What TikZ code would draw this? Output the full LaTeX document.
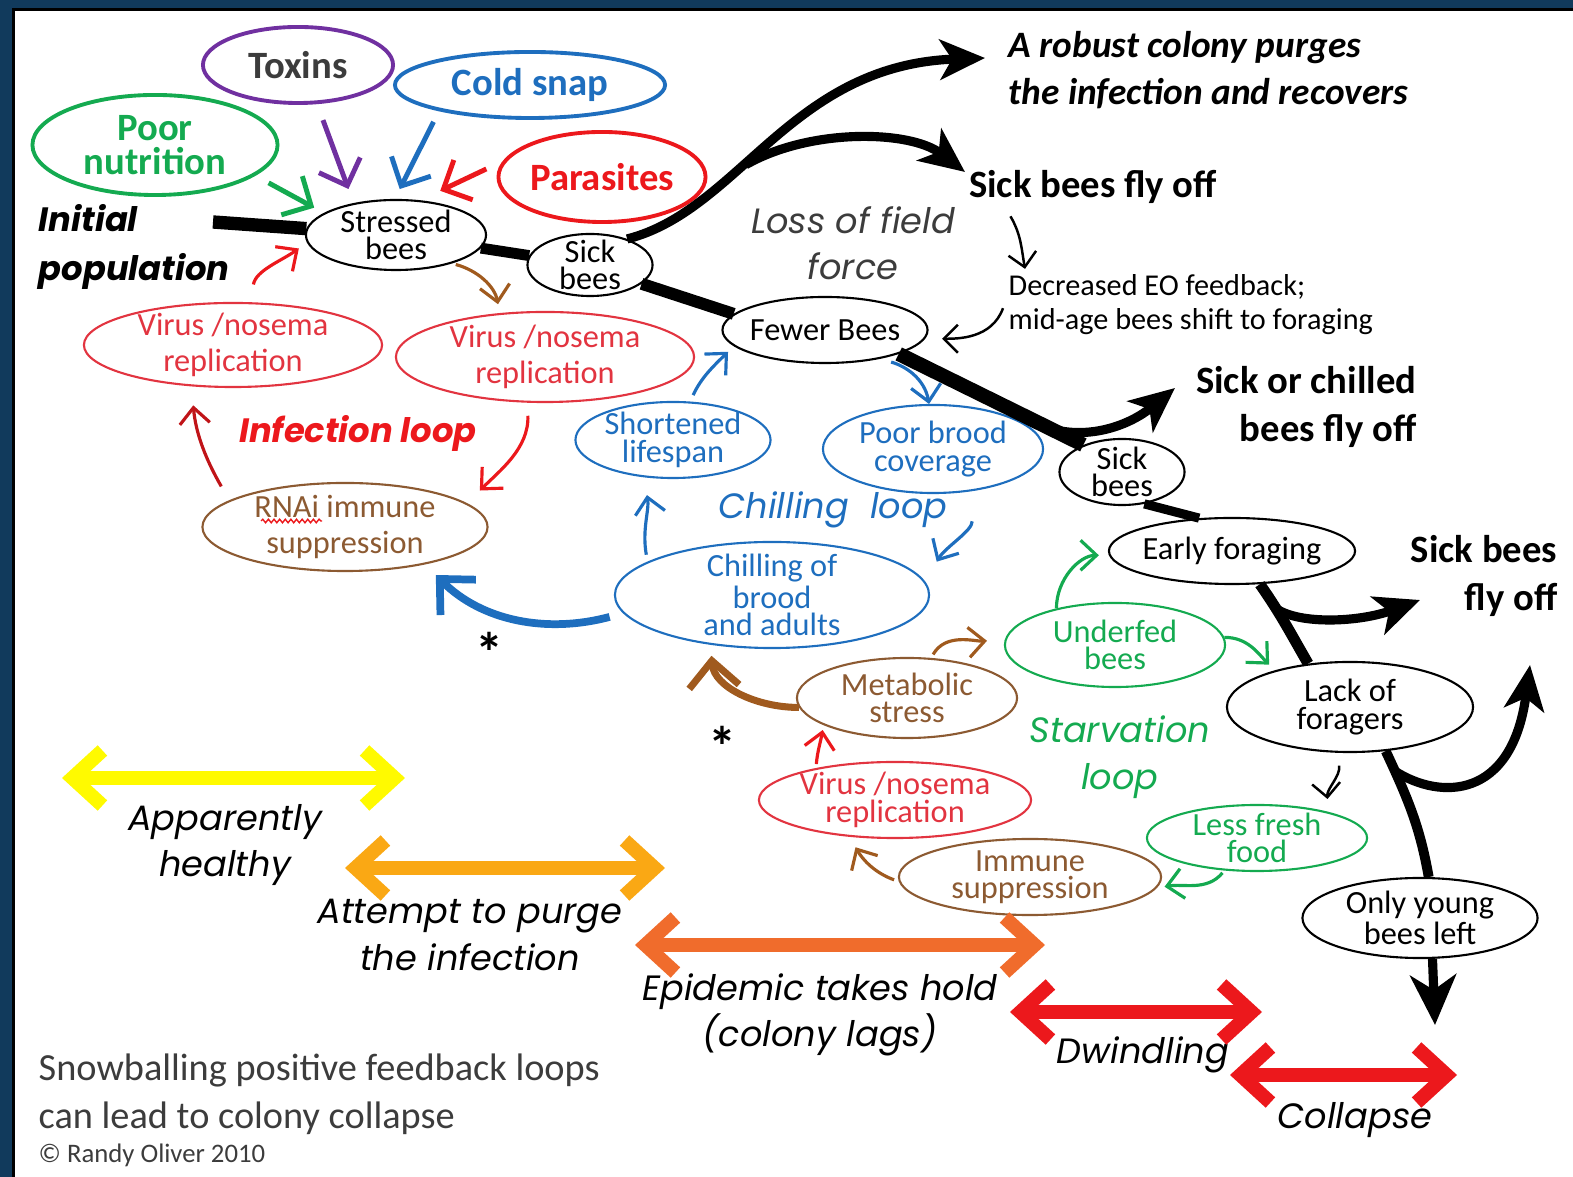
\documentclass[tikz,border=0pt]{standalone}
\usepackage{fontspec}
\setmainfont{Carlito}
\newfontfamily\comic{Poppins}
\usetikzlibrary{shapes.geometric,arrows.meta,decorations.pathmorphing}
\definecolor{framenavy}{RGB}{17,58,92}
\definecolor{cpurple}{RGB}{112,48,160}
\definecolor{cblue}{RGB}{30,110,190}
\definecolor{cgreen}{RGB}{20,170,80}
\definecolor{cred}{RGB}{236,24,28}
\definecolor{crose}{RGB}{226,52,64}
\definecolor{cdarkred}{RGB}{192,20,24}
\definecolor{cbrown}{RGB}{140,90,50}
\definecolor{cbrownar}{RGB}{160,90,30}
\definecolor{cgray}{RGB}{60,60,60}
\definecolor{cyellow}{RGB}{255,250,0}
\definecolor{corange}{RGB}{250,168,20}
\definecolor{corangered}{RGB}{240,108,44}
\begin{document}
\begin{tikzpicture}[x=0.01cm,y=-0.01cm,
    bubble/.style={ellipse,draw,inner sep=-3pt,align=center,line width=0.6pt,font=\fontsize{9.2}{7.8}\selectfont},
    cause/.style={ellipse,draw,inner sep=-3pt,align=center,line width=1.1pt,font=\fontsize{11}{9.6}\selectfont\bfseries},
    hand/.style={inner sep=0pt,align=center,font=\fontsize{10}{13.2}\selectfont\comic\itshape},
    handbold/.style={hand,font=\fontsize{9.6}{14.2}\selectfont\comic\bfseries\itshape},
    note/.style={inner sep=0pt,font=\fontsize{11}{13.4}\selectfont},
    trunk/.style={line width=3.8pt},
    branch/.style={line width=2.6pt,-{Stealth[length=4.5mm,width=4mm,inset=1.2mm]}},
    hair/.style={line width=0.7pt,-{Straight Barb[length=1.4mm,width=2.8mm]}},
    loopar/.style={line width=0.9pt,-{Straight Barb[length=1.6mm,width=3mm]}},
    causear/.style={line width=1.4pt,-{Straight Barb[length=2.2mm,width=4.4mm]}},
    fatar/.style={line width=2.2pt,-{Straight Barb[length=2.6mm,width=5mm]}},
    span/.style={line width=4pt,{Straight Barb[length=3mm,width=5.5mm]}-{Straight Barb[length=3mm,width=5.5mm]}}]
    \useasboundingbox (0,0) rectangle (1573,1177);
    \fill[framenavy] (0,0) rectangle (1573,8);
    \fill[framenavy] (0,0) rectangle (12,1177);
    \fill[black] (12,8) rectangle (1573,11);
    \fill[black] (12,8) rectangle (15,1177);

    \node[cause,draw=cpurple,text=cgray,minimum width=1.9cm,minimum height=0.76cm] (toxins) at (298,65) {Toxins};
    \node[cause,draw=cblue,text=cblue,minimum width=2.7cm,minimum height=0.66cm] (coldsnap) at (530,85) {Cold snap};
    \node[cause,draw=cgreen,text=cgreen,minimum width=2.45cm,minimum height=1cm] (poornut) at (155,145) {Poor\\nutrition};
    \node[cause,draw=cred,text=cred,minimum width=2.07cm,minimum height=0.9cm] (parasites) at (602,177) {Parasites};
    \node[bubble,minimum width=1.8cm,minimum height=0.7cm] (stressed) at (396,235) {Stressed\\bees};
    \node[bubble,minimum width=1.25cm,minimum height=0.62cm] (sick1) at (590,265) {Sick\\bees};
    \node[bubble,draw=crose,text=crose,minimum width=2.98cm,minimum height=0.84cm] (virus1) at (233,345) {Virus /nosema\\[2.4pt]replication};
    \node[bubble,draw=crose,text=crose,minimum width=2.98cm,minimum height=0.9cm] (virus2) at (545,357) {Virus /nosema\\[2.4pt]replication};
    \node[bubble,draw=cbrown,text=cbrown,minimum width=2.85cm,minimum height=0.88cm] (rnai) at (345,527) {RNAi immune\\[2.4pt]suppression};
    \node[bubble,draw=cblue,text=cblue,minimum width=1.95cm,minimum height=0.76cm] (shortened) at (673,440) {Shortened\\lifespan};
    \node[bubble,minimum width=2.05cm,minimum height=0.66cm] (fewer) at (825,330) {Fewer Bees};
    \node[bubble,draw=cblue,text=cblue,minimum width=2.2cm,minimum height=0.88cm] (poorbrood) at (933,449) {Poor brood\\coverage};
    \node[bubble,draw=cblue,text=cblue,minimum width=3.14cm,minimum height=1.06cm] (chillbrood) at (772,595) {Chilling of\\brood\\and adults};
    \node[bubble,minimum width=1.25cm,minimum height=0.66cm] (sick2) at (1122,472) {Sick\\bees};
    \node[bubble,minimum width=2.46cm,minimum height=0.66cm] (early) at (1232,551) {Early foraging};
    \node[bubble,draw=cgreen,text=cgreen,minimum width=2.2cm,minimum height=0.84cm] (underfed) at (1115,645) {Underfed\\bees};
    \node[bubble,minimum width=2.46cm,minimum height=0.9cm] (lackforagers) at (1350,707) {Lack of\\foragers};
    \node[bubble,draw=cgreen,text=cgreen,minimum width=2.2cm,minimum height=0.66cm] (lessfresh) at (1257,838) {Less fresh\\food};
    \node[bubble,minimum width=2.35cm,minimum height=0.8cm] (onlyyoung) at (1420,918) {Only young\\bees left};
    \node[bubble,draw=cbrown,text=cbrown,minimum width=2.2cm,minimum height=0.8cm] (metabolic) at (907,698) {Metabolic\\stress};
    \node[bubble,draw=crose,text=crose,minimum width=2.72cm,minimum height=0.76cm] (virus3) at (895,800) {Virus /nosema\\replication};
    \node[bubble,draw=cbrown,text=cbrown,minimum width=2.62cm,minimum height=0.76cm] (immune) at (1030,877) {Immune\\suppression};

    \node[handbold,anchor=west,align=left] (initpop) at (38,247) {Initial\\population};
    \node[handbold,text=cred] (infloop) at (358,433) {Infection loop};
    \node[hand,text=cblue] (chillloop) at (833,510) {Chilling\ \ loop};
    \node[hand,text=cgreen] (starvloop) at (1120,757) {Starvation\\loop};
    \node[hand,text=cgray] (lossforce) at (853,243) {Loss of field\\force};
    \node[hand] (apparently) at (225,845) {Apparently\\healthy};
    \node[hand] (attempt) at (470,935) {Attempt to purge\\the infection};
    \node[hand] (epidemic) at (820,1015) {Epidemic takes hold\\(colony lags)};
    \node[hand] (dwindling) at (1143,1055) {Dwindling};
    \node[hand] (collapse) at (1355,1120) {Collapse};

    \node[note,font=\fontsize{10.6}{13.4}\selectfont\bfseries\itshape,anchor=west,align=left] (robust) at (1008,70) {A robust colony purges\\the infection and recovers};
    \node[note,font=\fontsize{11}{13}\selectfont\bfseries] (sickfly1) at (1093,187) {Sick bees fly off};
    \node[note,font=\fontsize{8.6}{10}\selectfont,anchor=west] (decr1) at (1008,287) {Decreased EO feedback;};
    \node[note,font=\fontsize{8.6}{10}\selectfont,anchor=west] (decr2) at (1008,322) {mid-age bees shift to foraging};
    \node[note,font=\fontsize{11}{13.4}\selectfont\bfseries,anchor=east,align=right] (sickchilled) at (1417,407) {Sick or chilled\\bees fly off};
    \node[note,font=\fontsize{11}{13.6}\selectfont\bfseries,anchor=east,align=right] (sickfly3) at (1558,576) {Sick bees\\fly off};
    \node[note,font=\fontsize{10.9}{13.6}\selectfont,text=cgray,anchor=west,align=left] (snowball) at (38,1094) {Snowballing positive feedback loops\\can lead to colony collapse};
    \node[note,font=\fontsize{7.6}{9}\selectfont,text=cgray,anchor=west] (copyright) at (38,1155) {© Randy Oliver 2010};
    \node[font=\fontsize{16}{16}\selectfont\bfseries] (starA) at (490,652) {*};
    \node[font=\fontsize{16}{16}\selectfont\bfseries] (starB) at (722,746) {*};

    \coordinate (origin) at (213,222);
    \coordinate (finish) at (1435,1025);
    \coordinate (robusttip) at (985,58);
    \coordinate (flytipA) at (965,172);
    \coordinate (chilledtip) at (1175,388);
    \coordinate (flytipB) at (1420,600);
    \coordinate (flytipC) at (1530,665);

    \draw[trunk] (origin) -- (stressed);
    \draw[trunk,line width=3.1pt] (stressed) -- (sick1);
    \draw[trunk,line width=3.4pt] (sick1.-20) -- (fewer.170);
    \draw[trunk,line width=4.1pt] (fewer.-18) -- coordinate[pos=0.82] (forkC) (sick2.145);
    \draw[trunk,line width=2.6pt] (sick2.-55) -- (early.135);
    \draw[trunk,line width=3.1pt] (early.-50) to[out=-55,in=120] coordinate[pos=0.3] (forkD) (lackforagers.134);
    \draw[trunk,line width=2.8pt] (lackforagers.-51) to[out=-65,in=100] coordinate[pos=0.15] (forkE) (onlyyoung.78);
    \draw[trunk,line width=2.6pt,-{Stealth[length=5mm,width=4.6mm,inset=1.5mm]}] (onlyyoung.-73) -- (finish);
    \draw[branch] (sick1.35) .. controls (740,210) and (790,65) .. coordinate[pos=0.4] (forkB) (robusttip);
    \draw[branch] (forkB) .. controls (810,128) and (910,130) .. (flytipA);
    \draw[branch] (forkC) .. controls (1090,440) and (1130,425) .. (chilledtip);
    \draw[branch] (forkD) .. controls (1300,625) and (1360,622) .. (flytipB);
    \draw[branch] (forkE) .. controls (1440,800) and (1512,800) .. (flytipC);

    \draw[causear,cgreen,shorten <=0.15cm,shorten >=0.11cm] (poornut.-17) -- (stressed.163);
    \draw[causear,cpurple,shorten <=0.17cm,shorten >=0.15cm] (toxins.-64) -- (stressed.143);
    \draw[causear,cblue,shorten <=0.12cm,shorten >=0.11cm] (coldsnap.-164) -- (stressed.92);
    \draw[causear,cred,shorten <=0.18cm,shorten >=0.22cm] (parasites.171) -- (stressed.55);

    \draw[loopar,cred,shorten <=0.18cm,shorten >=0.1cm] (virus1.68) to[out=80,in=215] (stressed.185);
    \draw[loopar,cbrownar,shorten <=0.04cm,shorten >=0.09cm] (stressed.-27) to[out=-15,in=100] (virus2.136);
    \draw[loopar,cdarkred,shorten <=0.16cm,shorten >=0.19cm] (rnai.167) to[out=120,in=-85] (virus1.-135);
    \draw[loopar,cred,shorten <=0.13cm,shorten >=0.18cm] (virus2.-111) to[out=-88,in=45] (rnai.11);
    \draw[fatar,cblue,shorten <=0.14cm,shorten >=0.15cm] (chillbrood.-173) to[out=195,in=-45] (rnai.-25);
    \draw[cred,line width=0.4pt,decorate,decoration={snake,amplitude=0.5pt,segment length=1.6pt}] (261,521) -- (322,521);

    \draw[loopar,cblue,shorten <=0.07cm,shorten >=0.08cm] (shortened.66) to[out=65,in=-135] (fewer.-170);
    \draw[loopar,cblue,shorten <=0.12cm] (fewer.-28) to[out=-15,in=100] (poorbrood.95);
    \draw[loopar,cblue,shorten <=0.3cm,shorten >=0.23cm] (poorbrood.-48) to[out=-88,in=60] (chillbrood.5);
    \draw[loopar,cblue,shorten <=0.07cm,shorten >=0.18cm] (chillbrood.165) to[out=100,in=-80] (shortened.-128);

    \draw[loopar,cgreen,shorten >=0.1cm] (underfed.148) to[out=90,in=180] (early.-178);
    \draw[loopar,cgreen,shorten >=0.08cm] (underfed.4) to[out=0,in=135] (lackforagers.154);
    \draw[loopar,cbrownar,shorten <=0.04cm,shorten >=0.18cm] (metabolic.59) to[out=60,in=185] (underfed.177);
    \draw[fatar,cbrownar,line width=2pt,shorten >=0.11cm] (metabolic.-175) to[out=180,in=-85] (chillbrood.-141);
    \draw[loopar,cred,shorten <=0.04cm,shorten >=0.05cm] (virus3.158) to[out=85,in=-100] (metabolic.-162);
    \draw[loopar,cbrownar,shorten <=0.05cm,shorten >=0.12cm] (immune.-178) to[out=160,in=-60] (virus3.-141);
    \draw[loopar,cgreen,shorten <=0.03cm,shorten >=0.08cm] (lessfresh.-135) to[out=-130,in=10] (immune.-5);

    \draw[hair,shorten <=0.13cm,shorten >=0.13cm] (lackforagers.-106) to[out=-80,in=95] (lessfresh.20);
    \draw[hair] ([xshift=0.42cm,yshift=-0.12cm]sickfly1.south west) to[out=-60,in=100] ([xshift=0.17cm,yshift=0.05cm]decr1.north west);
    \draw[hair,shorten >=0.17cm] ([xshift=-0.05cm]decr2.north west) to[out=-110,in=0] (fewer.-5);

    \draw[span,cyellow] (62,778) -- (405,778);
    \draw[span,corange] (345,868) -- (665,868);
    \draw[span,corangered] (635,945) -- (1045,945);
    \draw[span,cred] (1010,1012) -- (1262,1012);
    \draw[span,cred] (1230,1075) -- (1457,1075);
\end{tikzpicture}
\end{document}
